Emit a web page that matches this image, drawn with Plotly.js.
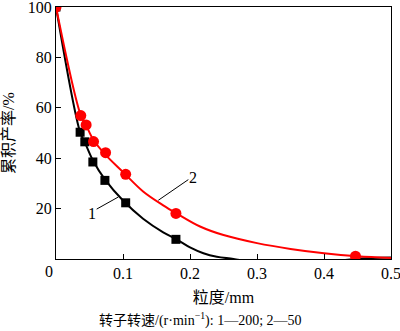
<!DOCTYPE html>
<html>
<head>
<meta charset="utf-8">
<script src="https://cdn.plot.ly/plotly-3.0.1.min.js"></script>
<style>html,body{margin:0;padding:0;background:#fff;}#chart{width:400px;height:331px;}</style>
</head>
<body>
<div id="chart"></div>
<script>
// Measured points
var size1 = [0, 0.036, 0.043, 0.055, 0.073, 0.104, 0.179];
var yield1 = [100, 50.3, 46.5, 38.5, 31.2, 22.3, 7.8];
var size2 = [0, 0.037, 0.045, 0.056, 0.074, 0.104, 0.179, 0.447];
var yield2 = [100, 56.9, 53.2, 46.6, 42.2, 33.6, 18.1, 1.1];
// Fitted curves
var fitX1 = [0, 0.036, 0.043, 0.055, 0.073, 0.1, 0.13, 0.16, 0.18, 0.2, 0.22, 0.24, 0.265, 0.3, 0.35, 0.4, 0.445, 0.5];
var fitY1 = [100, 50.3, 46.3, 39.2, 31.6, 23.2, 16, 10.6, 7.8, 4.6, 2.3, 0.9, 0, -1.5, -2.5, -1.5, 0, 0.6];
var fitX2 = [0, 0.037, 0.045, 0.056, 0.074, 0.1, 0.13, 0.16, 0.18, 0.215, 0.25, 0.3, 0.35, 0.4, 0.45, 0.5];
var fitY2 = [100, 57, 53, 47.2, 41.3, 34.5, 26.8, 21.3, 18.1, 12.9, 9.5, 6.3, 4, 2.3, 1.1, 0.4];
var xTicks = [0.1, 0.2, 0.3, 0.4, 0.5];
var yTicks = [20, 40, 60, 80, 100];

var serif = '"Liberation Serif", "Times New Roman", "Noto Sans CJK SC", serif';
var traces = [
  {x: fitX1, y: fitY1, mode: 'lines', line: {color: '#000', width: 2, shape: 'spline'}, hoverinfo: 'skip'},
  {x: fitX2, y: fitY2, mode: 'lines', line: {color: '#ff0000', width: 2, shape: 'spline'}, hoverinfo: 'skip'},
  {x: size1, y: yield1, mode: 'markers', marker: {symbol: 'square', size: 9, color: '#000'}},
  {x: size2, y: yield2, mode: 'markers', marker: {symbol: 'circle', size: 11, color: '#ff0000'}}
];
var layout = {
  width: 400, height: 331,
  margin: {l: 56, r: 9, t: 7, b: 72},
  showlegend: false,
  paper_bgcolor: '#fff', plot_bgcolor: '#fff',
  font: {family: serif, size: 16, color: '#000'},
  xaxis: {
    range: [0, 0.5], tickvals: xTicks, ticktext: xTicks.map(String),
    ticks: 'inside', ticklen: 5, tickcolor: '#000',
    showline: true, mirror: true, linecolor: '#000', linewidth: 1,
    showgrid: false, zeroline: false, ticklabeloverflow: 'allow',
    tickfont: {family: serif, size: 16},
    title: {text: '粒度/mm', font: {family: serif, size: 16}, standoff: 10}
  },
  yaxis: {
    range: [0, 100], tickvals: yTicks, ticktext: yTicks.map(String),
    ticks: 'inside', ticklen: 5, tickcolor: '#000',
    showline: true, mirror: true, linecolor: '#000', linewidth: 1,
    showgrid: false, zeroline: false, ticklabeloverflow: 'allow',
    tickfont: {family: serif, size: 16},
    title: {text: '累积产率/%', font: {family: serif, size: 16}, standoff: 11}
  },
  shapes: [
    {type: 'line', xref: 'x', yref: 'y', x0: 0.0607, y0: 19.8, x1: 0.093, y1: 24.6, line: {color: '#000', width: 1}},
    {type: 'line', xref: 'x', yref: 'y', x0: 0.1975, y0: 31.5, x1: 0.1527, y1: 23.3, line: {color: '#000', width: 1}}
  ],
  annotations: [
    {x: 0.053, y: 18.2, xref: 'x', yref: 'y', text: '1', showarrow: false, font: {family: serif, size: 16}},
    {x: 0.204, y: 32.5, xref: 'x', yref: 'y', text: '2', showarrow: false, font: {family: serif, size: 16}},
    {x: 0, y: 0, xref: 'paper', yref: 'paper', xanchor: 'center', yanchor: 'middle', xshift: -7, yshift: -12, text: '0', showarrow: false, font: {family: serif, size: 16}},
    {x: 0.43, y: 0, xref: 'paper', yref: 'paper', xanchor: 'center', yanchor: 'middle', yshift: -60, text: '转子转速/(r·min<sup>−1</sup>): 1—200; 2—50', showarrow: false, font: {family: serif, size: 14}}
  ]
};
Plotly.newPlot('chart', traces, layout, {staticPlot: true, displayModeBar: false});
</script>
</body>
</html>
